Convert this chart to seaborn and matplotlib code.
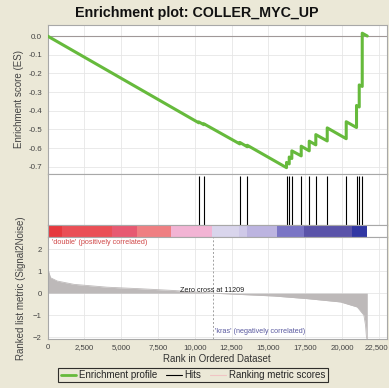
import numpy as np
import pandas as pd
import matplotlib
matplotlib.use("Agg")
import matplotlib.pyplot as plt
import seaborn as sns
from matplotlib.lines import Line2D
from matplotlib.transforms import ScaledTranslation

sns.set_style("white")
plt.rcParams['font.family'] = ['Liberation Sans', 'DejaVu Sans']

# ---------------- data ----------------
n_genes = 21720
zero_cross = 11209
hit_ranks = [10278, 10618, 13063, 13566, 16235, 16418, 16595, 17233,
             17777, 18225, 19000, 20290, 20990, 21174, 21378]
es_before = [-0.465, -0.475, -0.578, -0.593, -0.705, -0.685, -0.656, -0.642,
             -0.615, -0.583, -0.562, -0.550, -0.490, -0.380, -0.270]
es_after = [-0.460, -0.470, -0.570, -0.585, -0.677, -0.648, -0.615, -0.590,
            -0.563, -0.528, -0.492, -0.459, -0.372, -0.262, 0.015]
es_start = 0.0
es_end = 0.0

metric_ranks = [0, 204, 660, 1790, 4055, 6320, 8580, 11190, 13110, 15370,
                17640, 19900, 21040, 21490, 21600, 21670, 21720]
metric_values = [1.15, 0.70, 0.55, 0.40, 0.27, 0.20, 0.12, 0.0, -0.06, -0.13,
                 -0.25, -0.40, -0.63, -1.0, -1.45, -2.05, -2.05]

band_edges = [0, 1000, 4395, 6093, 8355, 11190, 13000, 13570, 15600, 17410, 20700, 21720]
band_colors = ["#e6393e", "#ea4f56", "#e75a72", "#ef7f82", "#f2b4d4", "#d9d5ec",
               "#cfc9e8", "#bcb4e0", "#7a75c5", "#5a53a9", "#3137a3"]

x_ticks = [0, 2500, 5000, 7500, 10000, 12500, 15000, 17500, 20000, 22500]
es_ticks = [0.0, -0.1, -0.2, -0.3, -0.4, -0.5, -0.6, -0.7]
metric_ticks = [-2, -1, 0, 1, 2]

# ---------------- build tables ----------------
es_x = [0]
es_y = [es_start]
for r, b, a in zip(hit_ranks, es_before, es_after):
    es_x += [r, r]
    es_y += [b, a]
es_x.append(n_genes)
es_y.append(es_end)
es_df = pd.DataFrame({"rank": es_x, "es": es_y})
metric_df = pd.DataFrame({"rank": metric_ranks, "metric": metric_values})

# ---------------- figure ----------------
BG = "#ebe8d7"
GRID = "#e6e6e6"
SPINE = "#a8a8a8"
GREEN = "#66ba3c"
XMAX = 23060

fig = plt.figure(figsize=(3.89, 3.88), dpi=100, facecolor=BG)
L, W = 47.5 / 389, (387 - 47.5) / 389
H = 388.0
ax1 = fig.add_axes([L, 1 - 174 / H, W, 149 / H])
ax2 = fig.add_axes([L, 1 - 224.5 / H, W, 50.5 / H])
ax3 = fig.add_axes([L, 1 - 237 / H, W, 12.5 / H])
ax4 = fig.add_axes([L, 1 - 338.5 / H, W, 101.5 / H])

for ax in (ax1, ax2, ax3, ax4):
    ax.set_facecolor("white")
    ax.set_xlim(0, XMAX)
    for s in ax.spines.values():
        s.set_color(SPINE)
        s.set_linewidth(0.8)
    ax.set_xticks(x_ticks)
    ax.grid(True, color=GRID, linewidth=0.6)
    ax.set_axisbelow(True)

# --- ES panel ---
ax1.axhline(0, color="#a09898", linewidth=0.8, zorder=1)
sns.lineplot(data=es_df, x="rank", y="es", ax=ax1, estimator=None, sort=False,
             color=GREEN, linewidth=2.2, legend=False, zorder=3)
ax1.set_ylim(-0.739, 0.059)
ax1.set_yticks(es_ticks)
ax1.set_yticklabels([f"{v:.1f}" for v in es_ticks])
ax1.set_xticklabels([])
ax1.set_xlabel("")
ax1.set_ylabel("Enrichment score (ES)", fontsize=7, color="#444444", labelpad=3)
ax1.tick_params(axis="y", labelsize=5.8, colors="#444444", length=2, width=0.5, pad=2)
ax1.tick_params(axis="x", length=0)

# --- hits panel ---
ax2.vlines(hit_ranks, 0, 0.96, transform=ax2.get_xaxis_transform(),
           color="black", linewidth=0.8)
ax2.set_ylim(0, 1)
ax2.set_yticks([])
ax2.set_xticklabels([])
ax2.tick_params(length=0)
ax2.grid(axis="y", visible=False)

# --- colour band ---
for i, c in enumerate(band_colors):
    ax3.axvspan(band_edges[i], band_edges[i + 1], color=c, linewidth=0)
ax3.set_ylim(0, 1)
ax3.set_yticks([])
ax3.set_xticklabels([])
ax3.tick_params(length=0)
ax3.grid(False)

# --- ranked metric panel ---
ax4.fill_between(metric_df["rank"], metric_df["metric"], 0, color="#bdb9b9",
                 linewidth=0, zorder=2)
sns.lineplot(data=metric_df, x="rank", y="metric", ax=ax4, estimator=None,
             sort=False, color="#bdb9b9", linewidth=0.6, legend=False, zorder=2)
ax4.axvline(zero_cross, color="#a0a0a0", linewidth=0.7, linestyle=(0, (2, 2)), zorder=3)
ax4.set_ylim(-2.06, 2.55)
ax4.set_yticks(metric_ticks)
ax4.set_xticks(x_ticks)
ax4.set_xticklabels([f"{v:,}" for v in x_ticks])
ax4.set_ylabel("Ranked list metric (Signal2Noise)", fontsize=7, color="#444444", labelpad=5)
ax4.set_xlabel("Rank in Ordered Dataset", fontsize=7, color="#333333", labelpad=2)
ax4.tick_params(axis="both", labelsize=5.6, colors="#444444", length=2, width=0.5, pad=2)
lastlab = ax4.get_xticklabels()[-1]
lastlab.set_transform(lastlab.get_transform() +
                      ScaledTranslation(-2 / 100, 0, fig.dpi_scale_trans))
ax4.text(0.012, 0.985, "'double' (positively correlated)", transform=ax4.transAxes,
         ha="left", va="top", fontsize=5.2, color="#d04848")
ax4.text(zero_cross, 0.12, "Zero cross at 11209", ha="center", va="center",
         fontsize=5.2, color="#222222")
ax4.text(zero_cross + 200, -1.75, "'kras' (negatively correlated)", ha="left",
         va="center", fontsize=5.2, color="#5a5aa0")

# --- title ---
fig.text(197 / 389, 1 - 13.5 / H, "Enrichment plot: COLLER_MYC_UP", ha="center",
         va="center", fontsize=10.3, fontweight="bold", color="#111111")

# --- legend ---
handles = [Line2D([], [], color=GREEN, linewidth=2.0),
           Line2D([], [], color="black", linewidth=0.8),
           Line2D([], [], color="#f0c4c4", linewidth=0.8)]
labels = ["Enrichment profile", "Hits", "Ranking metric scores"]
leg = fig.legend(handles, labels, loc="center", bbox_to_anchor=(193 / 389, 1 - 375 / H),
                 ncol=3, fontsize=7.0, frameon=True, fancybox=False, edgecolor="black",
                 facecolor=BG, handlelength=1.6, handletextpad=0.3, columnspacing=0.9,
                 borderpad=0.25)
leg.get_frame().set_linewidth(0.8)

fig.savefig("out.png", dpi=100, facecolor=BG)
